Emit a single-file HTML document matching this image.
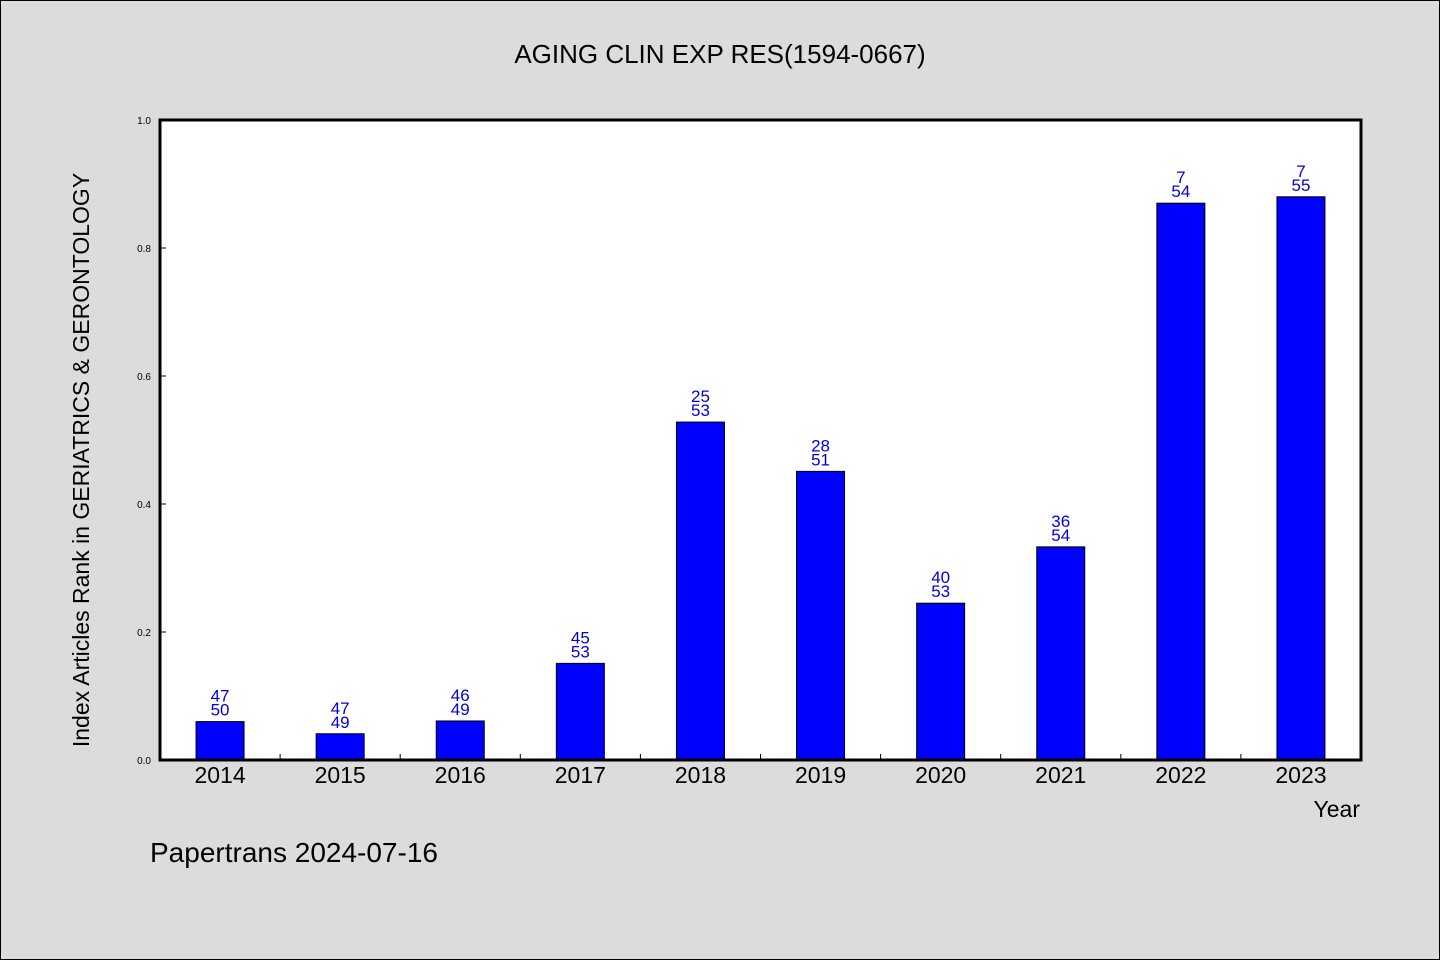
<!DOCTYPE html>
<html><head><meta charset="utf-8"><style>
body{margin:0;background:#dcdcdc;}
svg{display:block;font-family:"WenQuanYi Zen Hei","Liberation Sans",sans-serif;}
</style></head><body>
<svg id="chart" width="1440" height="960">
<rect x="0.5" y="0.5" width="1439" height="959" fill="#dcdcdc" stroke="#000"/>
<text x="720" y="63" text-anchor="middle" font-size="26">AGING CLIN EXP RES(1594-0667)</text>
<rect x="160" y="120" width="1201" height="640" fill="#fff"/>
<g id="bars"></g>
<g id="yticks"></g>
<g id="xticks"></g>
<rect x="160" y="120" width="1201" height="640" fill="none" stroke="#000" stroke-width="3"/>
<text transform="translate(89,460) rotate(-90)" text-anchor="middle" font-size="23">Index Articles Rank in GERIATRICS &amp; GERONTOLOGY</text>
<text x="1360" y="817" text-anchor="end" font-size="23">Year</text>
<text x="150" y="862" font-size="28">Papertrans 2024-07-16</text>
</svg>
<script>
const years=["2014","2015","2016","2017","2018","2019","2020","2021","2022","2023"];
const ranks=[47,47,46,45,25,28,40,36,7,7];
const totals=[50,49,49,53,53,51,53,54,54,55];
const values=[0.06,0.041,0.061,0.151,0.528,0.451,0.245,0.333,0.870,0.880];
const yTicks=[0,0.2,0.4,0.6,0.8,1.0];
const NS="http://www.w3.org/2000/svg";
const x0=160,x1=1361,yb=760,yt=120;
const band=(x1-x0)/years.length;
const xs=i=>x0+band*(i+0.5);
const ys=v=>yb-(yb-yt)*v;
function mk(t,a,p){const e=document.createElementNS(NS,t);for(const k in a)e.setAttribute(k,a[k]);p.appendChild(e);return e;}
const gb=document.getElementById('bars'),gy=document.getElementById('yticks'),gx=document.getElementById('xticks');
years.forEach((y,i)=>{
 const cx=xs(i),top=ys(values[i]);
 const r=mk('rect',{x:cx-24,y:top,width:48,height:yb-top,fill:'#0000ff',stroke:'#000','stroke-width':1},gb);
 
 
 const t1=mk('text',{x:cx,y:top-20,'text-anchor':'middle','font-size':17,fill:'#0000dd'},gb);t1.textContent=ranks[i];
 
 
 const t2=mk('text',{x:cx,y:top-6,'text-anchor':'middle','font-size':17,fill:'#0000dd'},gb);t2.textContent=totals[i];
 
 
 const xl=mk('text',{x:cx,y:783,'text-anchor':'middle','font-size':23},gx);xl.textContent=y;
 
 
 if(i>0){const tk=mk('line',{x1:x0+band*i,x2:x0+band*i,y1:yb,y2:yb-6,stroke:'#000'},gx);
 
 }
});
yTicks.forEach(v=>{
 const tk=mk('line',{x1:x0,x2:x0+6,y1:ys(v),y2:ys(v),stroke:'#000'},gy);
 
 
 const tl=mk('text',{x:151,y:ys(v)+4,'text-anchor':'end','font-size':10},gy);tl.textContent=v.toFixed(1);
 
 
});
</script>
</body></html>
